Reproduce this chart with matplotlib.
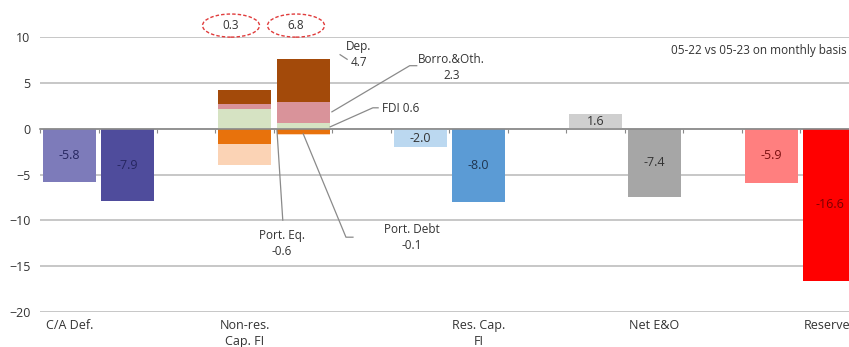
import matplotlib
matplotlib.use("Agg")
import matplotlib.pyplot as plt
from matplotlib.patches import Ellipse

plt.rcParams['font.family'] = ['Open Sans', 'DejaVu Sans']

# ---- data ----
simple_slots = [0, 1, 6, 7, 9, 10, 12, 13]
simple_values = [-5.8, -7.9, -2.0, -8.0, 1.6, -7.4, -5.9, -16.6]
simple_colors = ['#7D7BBA', '#4F4C9C', '#BBD8F0', '#5B9BD5', '#CFCFCF', '#A6A6A6', '#FF7F7F', '#FF0000']
simple_label_colors = ['#262660', '#262660', '#333333', '#1f3550', '#333333', '#333333', '#7a1010', '#7a0000']

stack_slots = [3, 4]
stack_names = ['FDI', 'Borro.&Oth.', 'Dep.', 'Port. Eq.', 'Port. Debt']
stack_values = {
    'FDI': [2.2, 0.6],
    'Borro.&Oth.': [0.5, 2.3],
    'Dep.': [1.5, 4.7],
    'Port. Eq.': [-1.6, -0.6],
    'Port. Debt': [-2.3, -0.1],
}
stack_colors = {
    'FDI': '#D6E3C3',
    'Borro.&Oth.': '#D9939A',
    'Dep.': '#A34A0A',
    'Port. Eq.': '#E8720C',
    'Port. Debt': '#FBD3B5',
}
net_totals = ['0.3', '6.8']

category_labels = ['C/A Def.', 'Non-res.\nCap. FI', 'Res. Cap.\nFI', 'Net E&O', 'Reserves']
category_pos = [0.5, 3.5, 7.5, 10.5, 13.5]

W, H = 849, 347
fig = plt.figure(figsize=(W / 100, H / 100), dpi=100)
ax = fig.add_axes([40 / W, 35 / H, (W - 40) / W, (312 - 37.3) / H])

ax.set_ylim(-20, 10)
ax.set_xlim(0, (W - 40) / 58.5)

# gridlines
ax.set_yticks([-20, -15, -10, -5, 0, 5, 10])
ax.yaxis.grid(True, color='#BDBDBD', lw=1.2)
ax.set_axisbelow(True)
for s in ['top', 'right', 'left']:
    ax.spines[s].set_visible(False)
ax.spines['bottom'].set_position(('data', 0))
ax.spines['bottom'].set_color('#8a8a8a')
ax.spines['bottom'].set_linewidth(1.2)
ax.spines['bottom'].set_zorder(5)
ax.set_xticks(range(0, 14))
ax.set_xticklabels([])
ax.tick_params(axis='x', length=3, color='#8a8a8a', direction='out')
ax.tick_params(axis='y', length=0, pad=7, labelsize=9, labelcolor='#333333')

bw = 0.9
# simple bars
for s, v, c, lc in zip(simple_slots, simple_values, simple_colors, simple_label_colors):
    ax.bar(s + 0.5, v, width=bw, color=c, zorder=3)
    ax.text(s + 0.5, v / 2, f'{v:.1f}', ha='center', va='center', fontsize=9, color=lc, zorder=4)

# stacked bars
for i, s in enumerate(stack_slots):
    pos = 0.0
    neg = 0.0
    for name in stack_names:
        v = stack_values[name][i]
        if v >= 0:
            ax.bar(s + 0.5, v, bottom=pos, width=bw, color=stack_colors[name], zorder=3)
            pos += v
        else:
            ax.bar(s + 0.5, v, bottom=neg, width=bw, color=stack_colors[name], zorder=3)
            neg += v

# net totals in dashed ellipses
for cx, t in zip([3.265, 4.376], net_totals):
    e = Ellipse((cx, 11.28), 0.974, 2.52, fill=False, edgecolor='#E03C3C', ls=(0, (2.5, 1.5)),
                lw=1.0, clip_on=False)
    ax.add_patch(e)
    ax.text(cx, 11.28, t, ha='center', va='center', fontsize=8.5, color='#333333', clip_on=False)

# annotations with leader lines
lc = '#8a8a8a'
ax.plot([5.25, 5.45 - 0.32], [7.6, 8.1], color=lc, lw=0.9, zorder=4)
ax.text(5.45, 8.1, 'Dep.\n4.7', ha='center', va='center', fontsize=8.5, color='#333333', linespacing=1.3)

ax.plot([4.99, 6.32, 6.44], [1.86, 6.9, 6.9], color=lc, lw=0.9, zorder=4)
ax.text(7.03, 6.68, 'Borro.&Oth.\n2.3', ha='center', va='center', fontsize=8.5, color='#333333', linespacing=1.3)

ax.plot([4.96, 5.69, 5.78], [0.22, 2.3, 2.3], color=lc, lw=0.9, zorder=4)
ax.text(5.85, 2.2, 'FDI 0.6', ha='left', va='center', fontsize=8.5, color='#333333')

ax.plot([4.05, 4.15], [-0.1, -9.97], color=lc, lw=0.9, zorder=4)
ax.text(4.14, -12.54, 'Port. Eq.\n-0.6', ha='center', va='center', fontsize=8.5, color='#333333', linespacing=1.3)

ax.plot([4.5, 5.23, 5.35], [-0.55, -11.83, -11.83], color=lc, lw=0.9, zorder=4)
ax.text(6.36, -11.83, 'Port. Debt\n-0.1', ha='center', va='center', fontsize=8.5, color='#333333', linespacing=1.3)

ax.text(10.79, 8.54, '05-22 vs 05-23 on monthly basis', ha='left', va='center', fontsize=8.5,
        color='#333333', clip_on=False)

# category labels
for x, lab in zip(category_pos, category_labels):
    ax.text(x, -20.8, lab, ha='center', va='top', fontsize=9, color='#333333',
            linespacing=1.25, clip_on=False)

fig.savefig('out.png', dpi=100)
